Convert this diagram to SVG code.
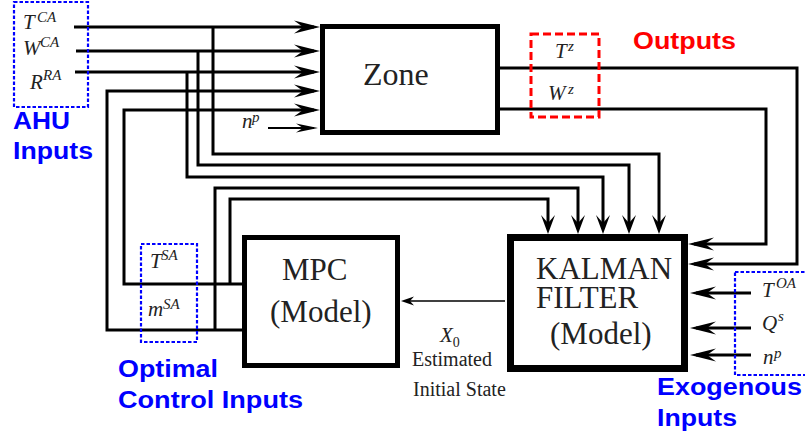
<svg xmlns="http://www.w3.org/2000/svg" width="805" height="436" viewBox="0 0 805 436">
<style>
.ln{fill:none;stroke:#000;stroke-width:3}
.box{fill:#fff;stroke:#000}
.m{font-family:"Liberation Serif",serif;font-style:italic;font-size:21px;fill:#222}
.s{font-family:"Liberation Serif",serif;font-style:italic;font-size:15px;fill:#222}
.big{font-family:"Liberation Serif",serif;font-size:31px;fill:#222}
.c{font-family:"Liberation Serif",serif;font-size:20px;fill:#222}
.blue{font-family:"Liberation Sans",Arial,sans-serif;font-weight:bold;font-size:23px;fill:#0000ff}
.red{font-family:"Liberation Sans",Arial,sans-serif;font-weight:bold;font-size:23px;fill:#ff0000}
.bdash{fill:none;stroke:#0000ff;stroke-width:2.2;stroke-dasharray:3.5 2}
.rdash{fill:none;stroke:#ff0000;stroke-width:3;stroke-dasharray:8 4}
</style>
<defs>
<marker id="ah" markerUnits="userSpaceOnUse" orient="auto" markerWidth="30" markerHeight="16" refX="22" refY="8"><path d="M28,8 L2,1.5 L11,8 L2,14.5 Z" fill="#000"/></marker>
<marker id="ad" markerUnits="userSpaceOnUse" orient="auto" markerWidth="22" markerHeight="16" refX="16" refY="8"><path d="M21,8 L2,1 L10,8 L2,15 Z" fill="#000"/></marker>
<marker id="as" markerUnits="userSpaceOnUse" orient="auto" markerWidth="24" markerHeight="10" refX="19" refY="5"><path d="M23,5 L1,0.5 L8,5 L1,9.5 Z" fill="#000"/></marker>
<marker id="at" markerUnits="userSpaceOnUse" orient="auto" markerWidth="15" markerHeight="10" refX="11" refY="5"><path d="M14,5 L1,0.5 L5,5 L1,9.5 Z" fill="#000"/></marker>
</defs>
<rect width="805" height="436" fill="#fff"/>

<g id="connectors">
<path class="ln" d="M74,27 H314" marker-end="url(#ah)"/>
<path class="ln" d="M76,51 H314" marker-end="url(#ah)"/>
<path class="ln" d="M75,72 H314" marker-end="url(#ah)"/>
<path class="ln" d="M242,330 H107 V91 H314" marker-end="url(#ah)"/>
<path class="ln" d="M242,284 H124 V110 H314" marker-end="url(#ah)"/>
<path class="ln" style="stroke-width:2" d="M268,128 H314" marker-end="url(#as)"/>
<path class="ln" d="M213,27 V154 H659 V229" marker-end="url(#ad)"/>
<path class="ln" d="M198,51 V165 H629 V229" marker-end="url(#ad)"/>
<path class="ln" d="M187,72 V177 H603 V229" marker-end="url(#ad)"/>
<path class="ln" d="M215,330 V188 H578 V229" marker-end="url(#ad)"/>
<path class="ln" d="M230,284 V199 H548 V229" marker-end="url(#ad)"/>
<path class="ln" d="M500,68 H797 V264 H694" marker-end="url(#ah)"/>
<path class="ln" d="M500,109 H766 V244 H694" marker-end="url(#ah)"/>
<path class="ln" d="M751,293 H696" marker-end="url(#ah)"/>
<path class="ln" d="M751,328 H696" marker-end="url(#ah)"/>
<path class="ln" d="M751,355 H696" marker-end="url(#ah)"/>
<path class="ln" style="stroke-width:1.6" d="M505,301 H404" marker-end="url(#at)"/>
</g>

<g id="zone">
<rect class="box" x="322.5" y="26.5" width="175" height="106" stroke-width="5"/>
<text class="big" x="363" y="85" style="font-size:32px">Zone</text>
</g>

<g id="mpc">
<rect class="box" x="244.5" y="237.5" width="153" height="128" stroke-width="5"/>
<text class="big" x="282" y="280">MPC</text>
<text class="big" x="270" y="322">(Model)</text>
</g>

<g id="kalman">
<rect class="box" x="510.5" y="237.5" width="174" height="131" stroke-width="7"/>
<text class="big" x="536" y="279">KALMAN<tspan x="536" dy="29">FILTER</tspan></text>
<text class="big" x="550" y="344">(Model)</text>
</g>

<g id="ahu-inputs">
<rect class="bdash" x="14" y="2" width="74" height="105"/>
<text class="m" x="23" y="29">T</text><text class="s" x="37" y="22">CA</text>
<text class="m" x="23" y="55">W</text><text class="s" x="40" y="47">CA</text>
<text class="m" x="30" y="89">R</text><text class="s" x="43" y="80">RA</text>
<text class="blue" x="13" y="129" textLength="57" lengthAdjust="spacingAndGlyphs">AHU</text>
<text class="blue" x="13" y="159" textLength="80" lengthAdjust="spacingAndGlyphs">Inputs</text>
</g>

<g id="occupancy-input">
<text class="m" x="242" y="128">n</text><text class="s" x="252" y="122">p</text>
</g>

<g id="outputs">
<rect class="rdash" x="531" y="34" width="68" height="83"/>
<text class="m" x="555" y="58">T</text><text class="s" x="568" y="51">z</text>
<text class="m" x="548" y="100">W</text><text class="s" x="568" y="94">z</text>
<text class="red" x="633" y="49" textLength="103" lengthAdjust="spacingAndGlyphs">Outputs</text>
</g>

<g id="optimal-control-inputs">
<rect class="bdash" x="141" y="244" width="56" height="98"/>
<text class="m" x="150" y="268">T</text><text class="s" x="161" y="260">SA</text>
<text class="m" x="148" y="316">m</text><text class="s" x="163" y="309">SA</text>
<text class="blue" x="118" y="377" textLength="100" lengthAdjust="spacingAndGlyphs">Optimal</text>
<text class="blue" x="118" y="408" textLength="185" lengthAdjust="spacingAndGlyphs">Control Inputs</text>
</g>

<g id="exogenous-inputs">
<rect class="bdash" x="735" y="272" width="75" height="103"/>
<text class="m" x="762" y="297">T</text><text class="s" x="776" y="288">OA</text>
<text class="m" x="762" y="330">Q</text><text class="s" x="778" y="321">s</text>
<text class="m" x="763" y="364">n</text><text class="s" x="774" y="358">p</text>
<text class="blue" x="657" y="395" textLength="145" lengthAdjust="spacingAndGlyphs">Exogenous</text>
<text class="blue" x="657" y="426" textLength="80" lengthAdjust="spacingAndGlyphs">Inputs</text>
</g>

<g id="estimated-state-label">
<text class="m" x="440" y="342">X<tspan dy="5" style="font-style:normal;font-size:14px">0</tspan></text>
<text class="c" x="412" y="366">Estimated</text>
<text class="c" x="413" y="396">Initial State</text>
</g>
</svg>
